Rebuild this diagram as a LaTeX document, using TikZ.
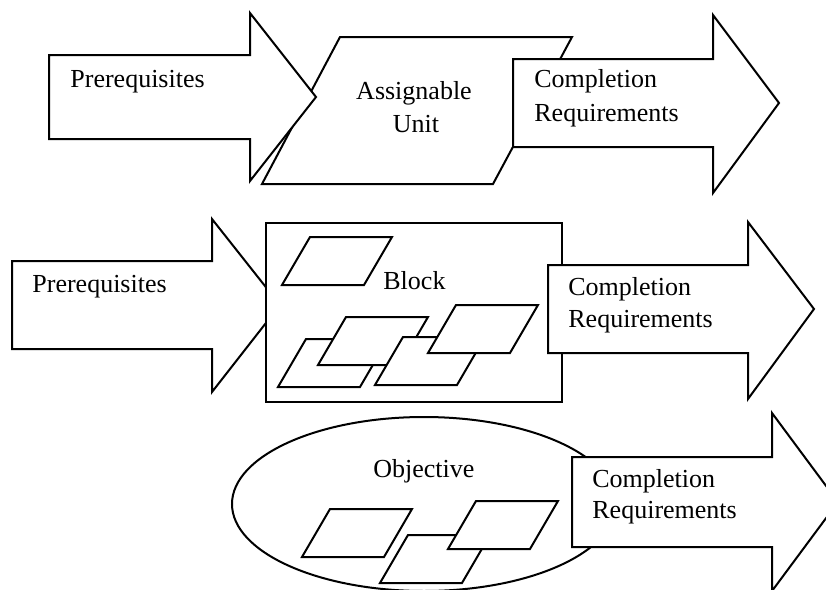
\documentclass[tikz,border=0pt]{standalone}
\usepackage{fontspec}
\setmainfont{Liberation Serif}
\begin{document}
\begin{tikzpicture}[x=0.5pt,y=-0.5pt,
  outline/.style={draw=black,fill=white,line width=1pt,line join=miter},
  label/.style={anchor=base west,inner sep=0pt,font=\fontsize{13}{15}\selectfont},
  clabel/.style={label,anchor=base},
  card/.pic={\draw[outline] (0,0) -- (82,0) -- (54,48) -- (-28,48) -- cycle;}]
\useasboundingbox (0,0) rectangle (826,590);
\clip (0,0) rectangle (826,590);

% --- assignable unit with its prerequisites and completion requirements
\draw[outline] (340,37) -- (572,37) -- (493,184) -- (262,184) -- cycle;
\draw[outline] (49,55) -- (250,55) -- (250,13) -- (316,97) -- (250,181)
  -- (250,139) -- (49,139) -- cycle;
\draw[outline] (513,59) -- (713,59) -- (713,15) -- (779,103) -- (713,193)
  -- (713,147) -- (513,147) -- cycle;
\node[label] (pre1) at (70,87) {Prerequisites};
\node[clabel] (au1) at (414,99) {Assignable};
\node[clabel] (au2) at (416,132) {Unit};
\node[label] (comp1) at (534,87) {Completion};
\node[label] (req1) at (534,121) {Requirements};

% --- block of units
\draw[outline] (12,261) -- (212,261) -- (212,219) -- (280,305) -- (212,392)
  -- (212,349) -- (12,349) -- cycle;
\draw[outline] (266,223) rectangle (562,402);
\pic at (310,237) {card};
\pic at (306,339) {card};
\pic at (346,317) {card};
\pic at (403,337) {card};
\pic at (456,305) {card};
\draw[outline] (548,265) -- (748,265) -- (748,222) -- (814,309) -- (748,399)
  -- (748,353) -- (548,353) -- cycle;
\node[label] (pre2) at (32,292) {Prerequisites};
\node[label] (blk) at (383,289) {Block};
\node[label] (comp2) at (568,295) {Completion};
\node[label] (req2) at (568,327) {Requirements};

% --- objective
\draw[outline] (424,504) ellipse [x radius=192, y radius=87];
\pic at (330,509) {card};
\pic at (408,535) {card};
\pic at (476,501) {card};
\draw[outline] (572,457) -- (772,457) -- (772,413) -- (838,502) -- (772,591)
  -- (772,547) -- (572,547) -- cycle;
\node[label] (obj) at (373,477) {Objective};
\node[label] (comp3) at (592,487) {Completion};
\node[label] (req3) at (592,518) {Requirements};
\end{tikzpicture}
\end{document}
